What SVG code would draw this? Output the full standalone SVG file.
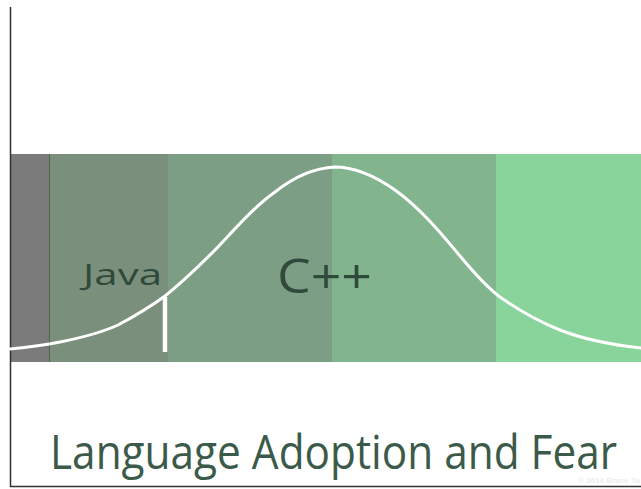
<svg xmlns="http://www.w3.org/2000/svg" width="641" height="489" viewBox="0 0 641 489">
  <style>
    .label { font-family: "Open Sans", "Liberation Sans", sans-serif; fill: #2f4a3b; }
    .title { font-family: "Open Sans", "Liberation Sans", sans-serif; fill: #3b5a4a; }
    .curve { fill: none; stroke: #ffffff; stroke-width: 3; stroke-linejoin: round; stroke-linecap: round; }
  </style>
  <rect width="641" height="489" fill="#ffffff"/>

  <!-- adoption bands -->
  <g id="bands">
    <rect x="10" y="154" width="39" height="208" fill="#7b7b7b"/>
    <rect x="49" y="154" width="119" height="208" fill="#7a8f7c"/>
    <rect x="168" y="154" width="164" height="208" fill="#7c9e84"/>
    <rect x="332" y="154" width="164" height="208" fill="#82b48e"/>
    <rect x="496" y="154" width="145" height="208" fill="#88d49b"/>
    <line x1="49.5" y1="154" x2="49.5" y2="362" stroke="#506252" stroke-width="1"/>
  </g>

  <!-- axes -->
  <g id="axes" stroke="#333333" stroke-width="1.5" fill="none">
    <polyline points="10.5,7 10.5,486.5 641,486.5"/>
  </g>

  <!-- adoption curve and marker -->
  <g id="connectors">
    <path class="curve" d="M10,349 C30,347 45,345 60,342 C85,337 105,331 118,325 C135,316 150,307 165,296 C185,280 200,265 215,250 C235,229 255,206 275,192 C295,176 315,168 335,167 C355,167 375,176 395,190 C420,208 440,232 460,256 C475,274 488,288 500,297 C520,311 540,322 560,330 C580,338 605,344 641,348"/>
    <line x1="165" y1="297" x2="165" y2="352" stroke="#ffffff" stroke-width="4.5"/>
  </g>

  <g id="java">
    <text class="label" x="83" y="285" font-size="30" textLength="79" lengthAdjust="spacingAndGlyphs">Java</text>
  </g>
  <g id="cpp">
    <text class="label" x="277" y="293" font-size="48" textLength="95" lengthAdjust="spacingAndGlyphs">C++</text>
  </g>

  <g id="title">
    <text class="title" x="50" y="469" font-size="48" textLength="567" lengthAdjust="spacingAndGlyphs">Language Adoption and Fear</text>
  </g>

  <text x="578" y="483" font-family="Liberation Sans, sans-serif" font-size="8" font-weight="bold" fill="#ececec">© 2014 Bruce Ta</text>
</svg>
